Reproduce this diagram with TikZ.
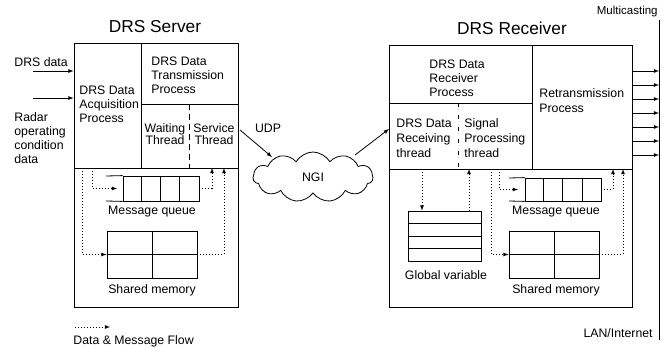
\documentclass[tikz,border=0pt]{standalone}
\usepackage{fontspec}
\setmainfont{Liberation Sans}
\usetikzlibrary{arrows,shapes.symbols}

\begin{document}
\begin{tikzpicture}[x=1pt,y=-1pt,line width=0.8pt,
  txt/.style={font=\fontsize{12.3}{14}\selectfont,align=left,inner sep=0pt},
  title/.style={font=\fontsize{17.3}{20}\selectfont,inner sep=0pt},
  small/.style={font=\fontsize{11.5}{13}\selectfont,inner sep=0pt},
  box/.style={draw,inner sep=0pt},
  flow/.style={dash pattern=on 1pt off 2pt,-latex}]
  \useasboundingbox (0,0) rectangle (667,348);

  % server
  \node[title] (srvtitle) at (155,27) {DRS Server};
  \node[box,minimum width=164pt,minimum height=264pt] (server) at (156,175) {};
  \draw (141,43) -- (141,168);
  \draw (74,168) -- (238,168);
  \draw (141,104) -- (238,104);
  \draw[dash pattern=on 6pt off 4pt] (189,104) -- (189,168);
  \node[txt,anchor=west] (acq) at (79,104) {DRS Data\\Acquisition\\Process};
  \node[txt,anchor=west] (trans) at (151,75) {DRS Data\\Transmission\\Process};
  \node[txt,align=center,font=\fontsize{12.3}{12}\selectfont] (wait) at (165,134) {Waiting\\Thread};
  \node[txt,align=center,font=\fontsize{12.3}{12}\selectfont] (serv) at (214,134) {Service\\Thread};

  \node[txt,anchor=west] (drsdata) at (14,62) {DRS data};
  \node[txt,anchor=west] (radar) at (14,138) {Radar\\operating\\condition\\data};
  \coordinate (in1) at (33,71);
  \coordinate (in2) at (33,98);
  \draw[-latex] (in1) -- (in1 -| server.west);
  \draw[-latex] (in2) -- (in2 -| server.west);

  \node[box,minimum width=76pt,minimum height=25pt] (squeue) at (161,188.5) {};
  \draw (106,176) -- (squeue.north west) (106,201) -- (squeue.south west);
  \foreach \x in {141,160,179} \draw (\x,176) -- (\x,201);
  \node[txt] (sqlabel) at (152,212) {Message queue};
  \node[box,minimum width=90pt,minimum height=47pt] (smem) at (152,254.5) {};
  \draw (smem.north) -- (smem.south) (smem.west) -- (smem.east);
  \node[txt] (smlabel) at (152,290) {Shared memory};

  \coordinate (sqin) at (117,188.5);
  \draw[flow] (82,168) |- (smem.west);
  \draw[flow] (92,168) |- (sqin);
  \draw[flow] (squeue.east) -| (212,168);
  \draw[flow] (smem.east) -| (224,168);

  % network
  \node[cloud,draw,cloud puffs=11,cloud puff arc=120,aspect=2.4,
    minimum width=120pt,minimum height=50pt,inner sep=0pt,
    font=\fontsize{12.3}{14}\selectfont] (ngi) at (313,177) {NGI};
  \node[txt] (udp) at (268,128) {UDP};
  \coordinate (udpout) at (240,130);
  \coordinate (udpin) at (272,157);
  \coordinate (ngiout) at (355,155);
  \draw[-latex] (udpout) -- (udpin);
  \draw[-latex] (ngiout) -- (389,129);

  % receiver
  \node[title] (rcvtitle) at (512,28) {DRS Receiver};
  \node[box,minimum width=243pt,minimum height=262pt] (receiver) at (510.5,176) {};
  \draw (532,45) -- (532,169);
  \draw (389,169) -- (632,169);
  \draw (389,103) -- (532,103);
  \draw[dash pattern=on 4pt off 8pt] (458,103) -- (458,169);
  \node[txt,anchor=west] (recv) at (429,78) {DRS Data\\Receiver\\Process};
  \node[txt,anchor=west,font=\fontsize{12.3}{15}\selectfont] (rthread) at (396,138) {DRS Data\\Receiving\\thread};
  \node[txt,anchor=west,font=\fontsize{12.3}{15}\selectfont] (sthread) at (464,138) {Signal\\Processing\\thread};
  \node[txt,anchor=west,font=\fontsize{12.3}{15}\selectfont] (retrans) at (539,101) {Retransmission\\Process};

  \node[box,minimum width=73pt,minimum height=50pt] (gvar) at (444.5,236) {};
  \foreach \y in {223.5,236,248.5} \draw (408,\y) -- (481,\y);
  \node[txt] (gvlabel) at (446,275) {Global variable};
  \node[box,minimum width=76pt,minimum height=23pt] (rqueue) at (563,189.5) {};
  \draw (509,178) -- (rqueue.north west) (509,201) -- (rqueue.south west);
  \foreach \x in {543,562,582} \draw (\x,178) -- (\x,201);
  \node[txt] (rqlabel) at (556,212) {Message queue};
  \node[box,minimum width=90pt,minimum height=47pt] (rmem) at (554,254.5) {};
  \draw (rmem.north) -- (rmem.south) (rmem.west) -- (rmem.east);
  \node[txt] (rmlabel) at (556,290) {Shared memory};

  \coordinate (rqin) at (518,189.5);
  \draw[flow] (422,169) -- (gvar.north -| 422,0);
  \draw[flow] (gvar.north -| 469,0) -- (469,169);
  \draw[flow] (499,169) |- (rqin);
  \draw[flow] (491,169) |- (rmem.west);
  \draw[flow] (rqueue.east) -| (613,169);
  \draw[flow] (rmem.east) -| (623,169);

  % multicasting
  \coordinate (mtop) at (659,20);
  \coordinate (mbot) at (659,340);
  \draw (mtop) -- (mbot);
  \foreach \y in {71,85,...,155} \draw[-latex] (632,\y) -- (659,\y);
  \node[small,anchor=east] (multi) at (658,12) {Multicasting};
  \node[txt,anchor=east] (lan) at (653,333) {LAN/Internet};

  % legend
  \coordinate (leg) at (75,327);
  \draw[flow] (leg) -- (110,327);
  \node[txt,anchor=west] (legtxt) at (73,341) {Data \& Message Flow};
\end{tikzpicture}
\end{document}
